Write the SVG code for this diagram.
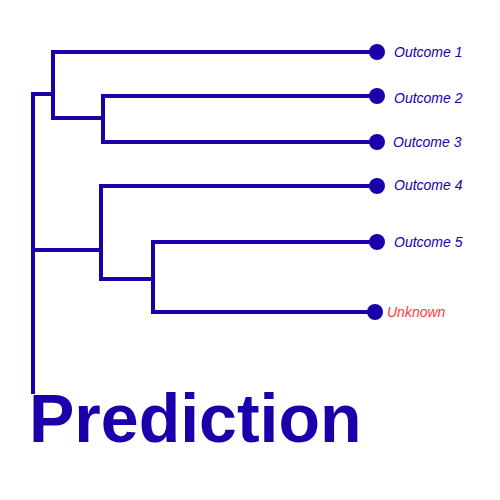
<svg xmlns="http://www.w3.org/2000/svg" width="500" height="500" viewBox="0 0 500 500">
<style>
.ln{fill:none;stroke:#1a00aa;stroke-width:4;stroke-linecap:square;stroke-linejoin:miter}
.dot{fill:#1a00aa}
.lbl{font-family:"Liberation Sans",Arial,sans-serif;font-style:italic;font-size:14px;fill:#1a00aa}
.unk{fill:#ff3b3b}
.title{font-family:"Liberation Sans",Arial,sans-serif;font-weight:bold;font-size:68px;fill:#1a00aa}
</style>
<rect width="500" height="500" fill="#ffffff"/>
<g id="connectors">
<path class="ln" d="M33,392 V94 H53"/>
<path class="ln" d="M377,52 H53 V118 H103"/>
<path class="ln" d="M377,96 H103 V142 H377"/>
<path class="ln" d="M33,250 H101"/>
<path class="ln" d="M377,186 H101 V279 H153"/>
<path class="ln" d="M377,242 H153 V312 H375"/>
</g>
<g id="outcome1"><circle class="dot" cx="377" cy="52" r="8"/><text class="lbl" x="394" y="57">Outcome 1</text></g>
<g id="outcome2"><circle class="dot" cx="377" cy="96" r="8"/><text class="lbl" x="394" y="103">Outcome 2</text></g>
<g id="outcome3"><circle class="dot" cx="377" cy="142" r="8"/><text class="lbl" x="393" y="147">Outcome 3</text></g>
<g id="outcome4"><circle class="dot" cx="377" cy="186" r="8"/><text class="lbl" x="394" y="190">Outcome 4</text></g>
<g id="outcome5"><circle class="dot" cx="377" cy="242" r="8"/><text class="lbl" x="394" y="247">Outcome 5</text></g>
<g id="unknown"><circle class="dot" cx="375" cy="312" r="8"/><text class="lbl unk" x="387" y="317">Unknown</text></g>
<g id="title"><text class="title" x="29" y="442">Prediction</text></g>
</svg>
